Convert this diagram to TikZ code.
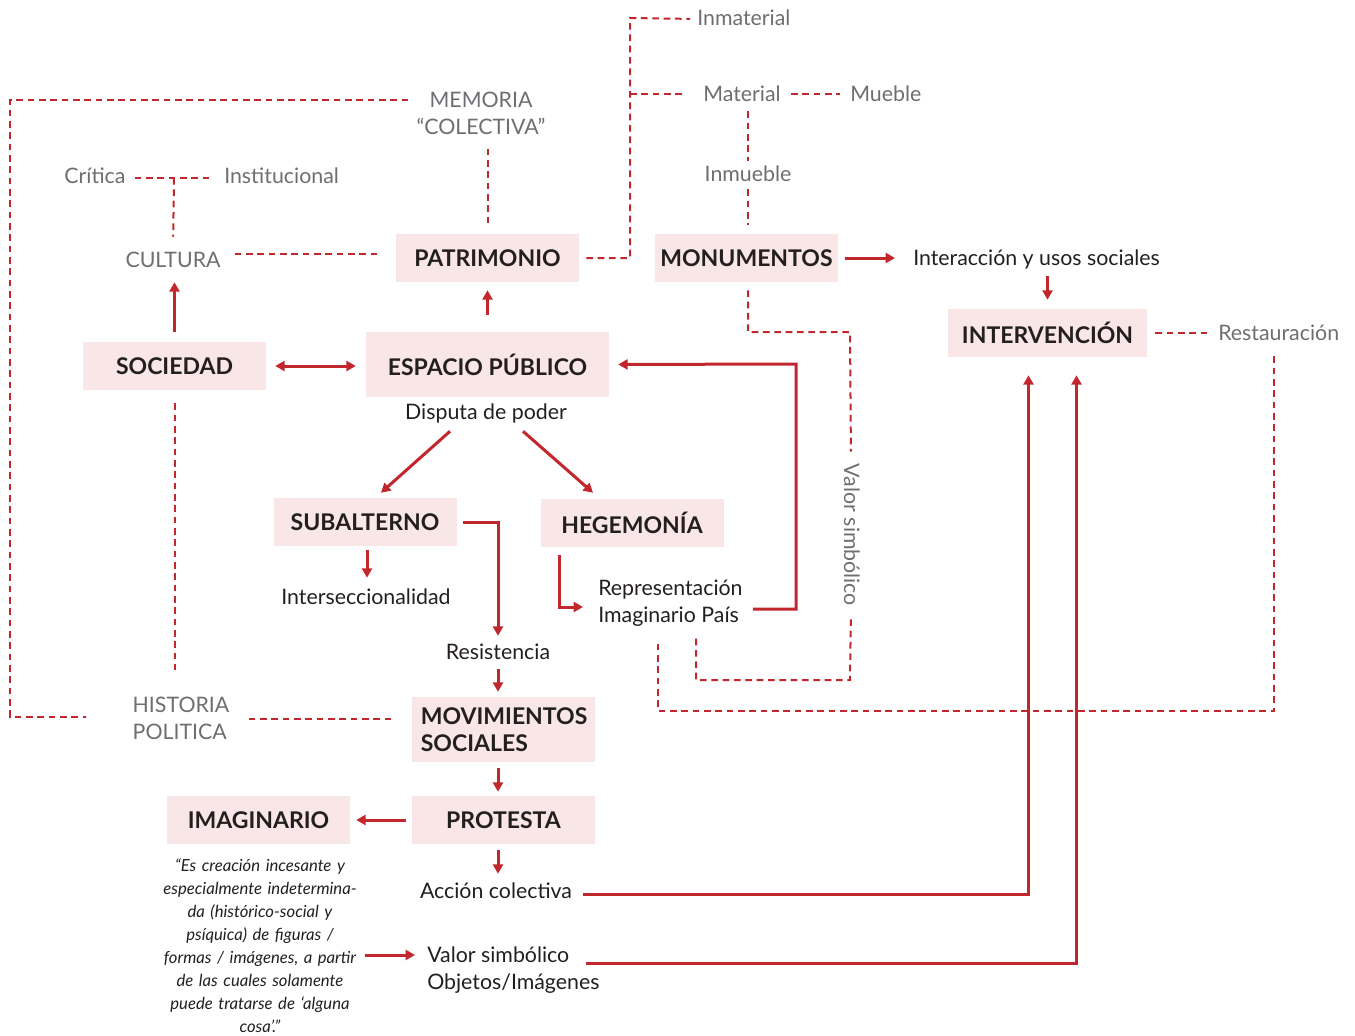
\documentclass[tikz,border=0pt]{standalone}
\usepackage{fontspec}
\setmainfont{Lato}
\usetikzlibrary{arrows.meta,calc}
\definecolor{rd}{RGB}{193,39,45}
\definecolor{pk}{RGB}{249,230,231}
\definecolor{gr}{RGB}{109,110,113}
\definecolor{bk}{RGB}{35,31,32}
\tikzset{
  box/.style={fill=pk, text=bk, font=\bfseries\fontsize{17.25}{20.25}\selectfont, minimum width=137.25pt, minimum height=36pt, inner sep=0pt},
  gtxt/.style={text=gr, font=\fontsize{16}{20.25}\selectfont, inner sep=0pt},
  btxt/.style={text=bk, font=\fontsize{16}{20.25}\selectfont, inner sep=0pt},
  one/.style={text height=12.75pt, text depth=2.25pt},
  arr/.style={draw=rd, line width=2.25pt, -{Triangle[length=7pt,width=7.5pt]}},
  dsh/.style={draw=rd, line width=1.5pt, dash pattern=on 5pt off 3.5pt}
}
\begin{document}
\begin{tikzpicture}[x=0.75pt,y=-0.75pt]
\useasboundingbox (0,0) rectangle (1355,1035);
% boxes
\node[box] (pat) at (487.5,258) {PATRIMONIO};
\node[box] (mon) at (746.5,258) {MONUMENTOS};
\node[box, minimum width=149.25pt] (int) at (1047.5,333) {INTERVENCIÓN};
\node[box] (soc) at (174.5,366) {SOCIEDAD};
\node[box, minimum width=182.25pt, minimum height=48.75pt] (esp) at (487.5,364.5) {ESPACIO PÚBLICO};
\node[box] (sub) at (365,522) {SUBALTERNO};
\node[box] (heg) at (632,523) {HEGEMONÍA};
\node[box, minimum height=48.75pt, text width=128pt, inner xsep=0pt, align=left] (mov) at (503.5,729.5) {\hspace*{2pt}MOVIMIENTOS\\\hspace*{2pt}SOCIALES};
\node[box] (pro) at (503.5,820) {PROTESTA};
\node[box] (ima) at (258.5,820) {IMAGINARIO};
% gray texts
\node[gtxt, one, anchor=west] (inm) at (697,19) {Inmaterial};
\node[gtxt, one] (mat) at (742,94) {Material};
\node[gtxt, one, anchor=west] (mue) at (850,94) {Mueble};
\node[gtxt, one] (inmu) at (748,174) {Inmueble};
\node[gtxt, align=center] (mem) at (481,113) {MEMORIA\\“COLECTIVA”};
\node[gtxt, one] (cri) at (95,176) {Crítica};
\node[gtxt, one, anchor=west] (ins) at (224,176) {Institucional};
\node[gtxt, one] (cul) at (173,260) {CULTURA};
\node[gtxt, align=left] (his) at (181,718) {HISTORIA\\POLITICA};
\node[gtxt, one, anchor=west] (res) at (1218,333) {Restauración};
\node[gtxt, one, rotate=-90] (vs) at (851,535) {Valor simbólico};
% black texts
\node[btxt, one, anchor=west] (inter) at (913,258) {Interacción y usos sociales};
\node[btxt, one] (disp) at (486,412) {Disputa de poder};
\node[btxt, one] (ints) at (366,597) {Interseccionalidad};
\node[btxt, align=left, anchor=west] (rep) at (598,603) {Representación\\Imaginario País};
\node[btxt, one] (resi) at (498,652) {Resistencia};
\node[btxt, one] (acc) at (496,891) {Acción colectiva};
\node[btxt, align=left, anchor=west] (val) at (427,970) {Valor simbólico\\Objetos/Imágenes};
\node[text=bk, font=\itshape\fontsize{12.5}{17.25}\selectfont, align=center, text width=150pt, inner sep=0pt] (quo) at (260,946)
 {“Es creación incesante y\\especialmente indetermina-\\da (histórico-social y\\psíquica) de figuras /\\formas / imágenes, a partir\\de las cuales solamente\\puede tratarse de ‘alguna\\cosa’.”};
% named free ends / corners
\coordinate (cj) at (174,178);
\coordinate (cp) at (630,18);
\coordinate (mc) at (850,332);
\coordinate (rc) at (850,680);
\coordinate (rr) at (1274,711);
\coordinate (lc) at (10,717);
\coordinate (c1) at (796,364);
\coordinate (vq) at (415,955);
\coordinate (vs0) at (586,963);
\coordinate (ac0) at (583,894);
% dashed connectors
\draw[dsh, shorten >=34.5pt] ([xshift=-6pt]mem.west |- 0,100) -| (lc) -- (his.west |- lc);
\draw[dsh, shorten <=6.75pt, shorten >=8.25pt] (cri.east |- cj) -- (ins.west |- cj);
\draw[dsh, shorten >=9.75pt] (cj) -- (cul.north);
\draw[dsh, shorten <=10.5pt, shorten >=6.75pt] (mem.south -| pat.north) -- (pat.north);
\draw[dsh, shorten <=10.5pt, shorten >=10.5pt] ([yshift=4.5pt]cul.east) -- ([yshift=4.5pt]cul.east -| pat.west);
\draw[dsh, shorten <=5.25pt, shorten >=5.25pt] (pat.east) -| (cp) -- (inm.west);
\draw[dsh, shorten >=14.25pt] (cp |- mat.west) -- (mat.west);
\draw[dsh, shorten <=7.5pt, shorten >=7.5pt] (mat.east) -- (mue.west);
\draw[dsh, shorten <=5.25pt, shorten >=2pt] (mat.south -| inmu.north) -- (inmu.north);
\draw[dsh, shorten <=3.75pt, shorten >=6.75pt] (inmu.south) -- (mon.north -| inmu.south);
\draw[dsh, shorten <=6pt, shorten >=9pt] (mon.south -| inmu.south) |- (mc) -- (vs.west);
\draw[dsh, shorten <=9.75pt, shorten >=9pt] (vs.east) -- (rc) -| ([xshift=73.5pt]rep.south west);
\draw[dsh, shorten <=6pt, shorten >=7.5pt] (int.east) -- (res.west);
\draw[dsh, shorten <=9.75pt, shorten >=12.75pt] (res.south -| rr) -- (rr) -| ([xshift=45pt]rep.south west);
\draw[dsh, shorten <=9.75pt, shorten >=19.5pt] (soc.south) -- (his.north -| soc.south);
\draw[dsh, shorten <=14.25pt, shorten >=14.25pt] ([yshift=-1pt]his.east) -- ([yshift=-1pt]his.east -| mov.west);
% solid arrows
\draw[arr, shorten <=7.5pt, shorten >=9pt] (soc.north) -- (soc.north |- cul.south);
\draw[arr, {Triangle[length=7pt,width=7.5pt]}-{Triangle[length=7pt,width=7.5pt]}, shorten <=6.75pt, shorten >=7.5pt] (soc.east) -- (soc.east -| esp.west);
\draw[arr, shorten <=12.75pt, shorten >=6pt] (esp.north) -- (pat.south);
\draw[arr, shorten <=5.25pt, shorten >=13.5pt] (mon.east) -- (mon.east -| inter.west);
\draw[arr, shorten <=6pt, shorten >=6.75pt] (int.north |- inter.south) -- (int.north);
\draw[arr] ($(disp.south)+(-36,9)$) -- ($(sub.north)+(16,-5)$);
\draw[arr] ($(disp.south)+(37,9)$) -- ($(heg.north)+(-39,-6)$);
\draw[arr, shorten <=3pt, shorten >=6.75pt] ([xshift=1.5pt]sub.south) -- ([xshift=1.5pt]sub.south |- ints.north);
\draw[arr, shorten <=4.5pt, shorten >=4.5pt] (sub.east) -| (resi.north);
\draw[arr, shorten <=6pt, shorten >=11.25pt] ([xshift=14.25pt]heg.south west) |- ([yshift=-3pt]rep.west);
\draw[arr, shorten <=7.5pt, shorten >=6.75pt] ([yshift=-4.5pt]rep.east) -| (c1) -- (esp.east);
\draw[arr, shorten <=5.25pt, shorten >=3.75pt] (resi.south) -- (resi.south |- mov.north);
\draw[arr, shorten <=4.5pt, shorten >=3pt] (resi.south |- mov.south) -- (resi.south |- pro.north);
\draw[arr, shorten <=4.5pt, shorten >=4.5pt] (pro.west) -- (ima.east);
\draw[arr, shorten <=4.5pt, shorten >=5.25pt] (resi.south |- pro.south) -- (resi.south |- acc.north);
\draw[arr, shorten >=13.5pt] (ac0) -| ([xshift=-14.25pt]int.south);
\draw[arr, shorten <=3.75pt] (quo.east |- vq) -- (vq);
\draw[arr, shorten >=13.5pt] (vs0) -| ([xshift=21.75pt]int.south);
\end{tikzpicture}
\end{document}
